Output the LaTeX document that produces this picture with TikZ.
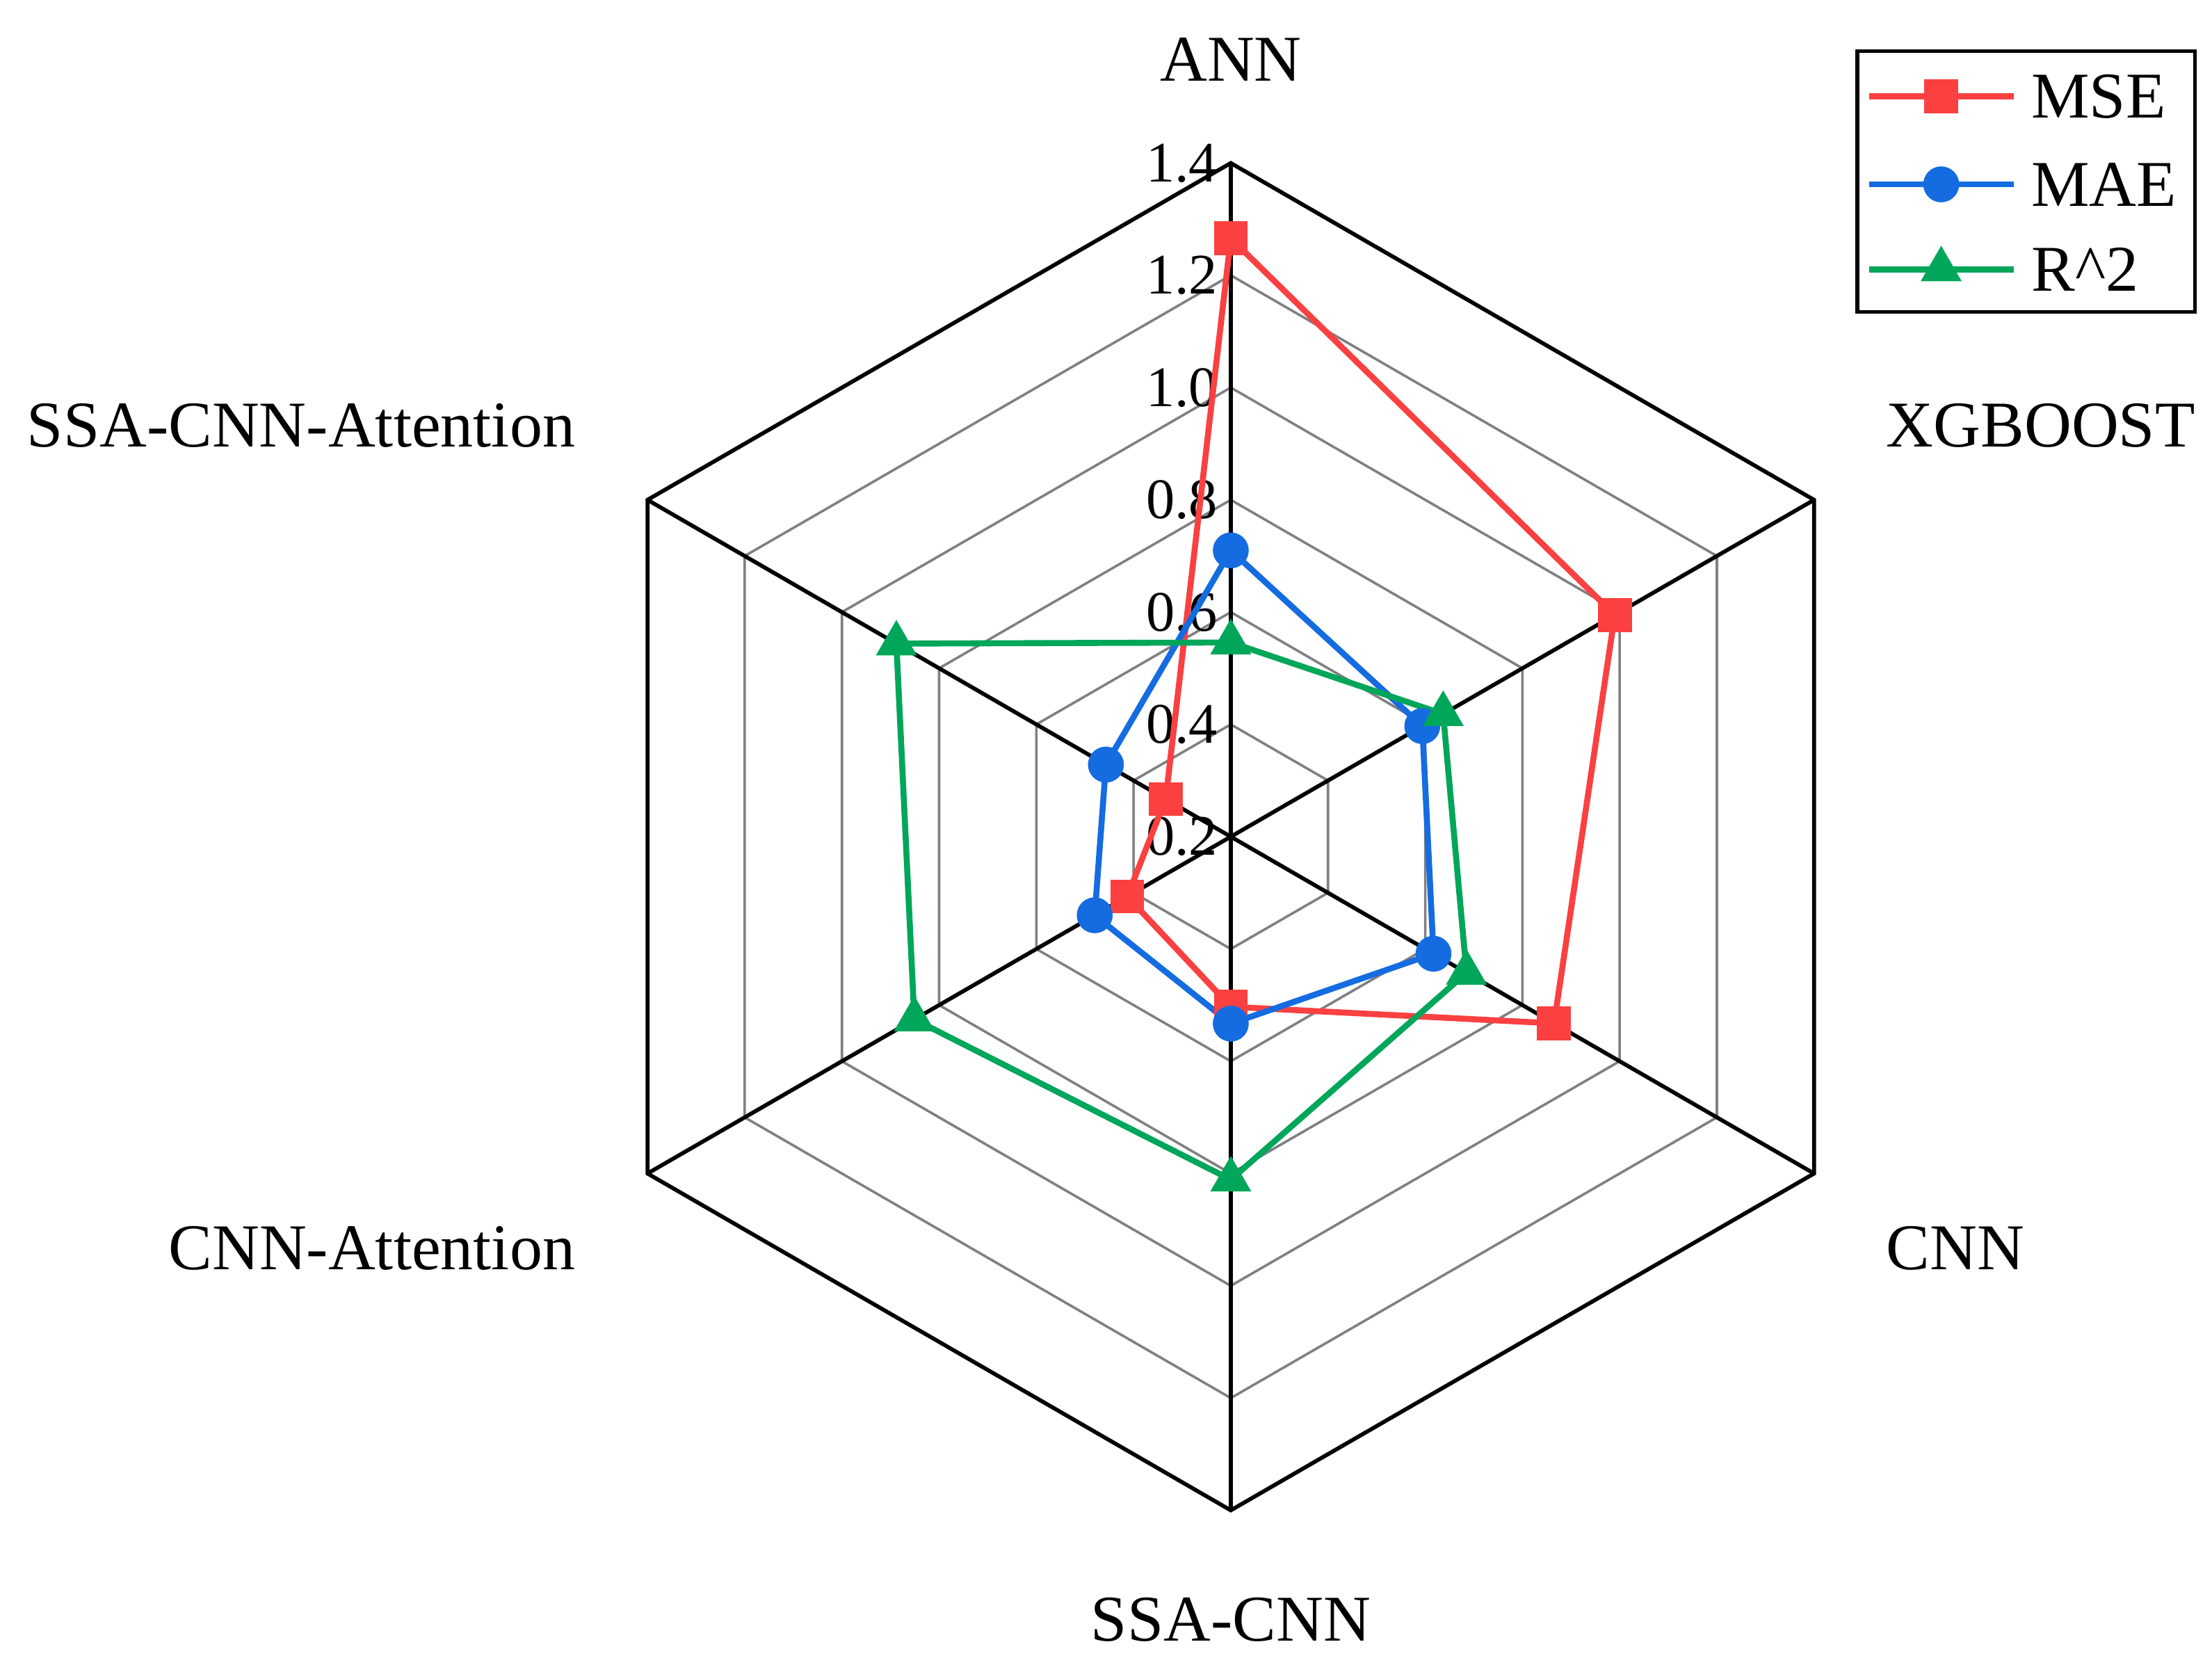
\documentclass[tikz,border=0pt]{standalone}
\usetikzlibrary{shapes.geometric}
\usepackage{fontspec}
\setmainfont{Liberation Serif}
\definecolor{cmse}{RGB}{250,64,64}
\definecolor{cmae}{RGB}{20,108,224}
\definecolor{cr2}{RGB}{0,166,90}
\begin{document}
\begin{tikzpicture}[x=0.01cm,y=0.01cm,
  ser/.style={line width=1.2pt,line join=round},
  lab/.style={font=\fontsize{13.1}{15}\selectfont},
  tick/.style={font=\fontsize{11.5}{13}\selectfont,anchor=east,inner sep=1pt},
  msq/.style={fill=cmse,draw=none,minimum size=6.8pt,inner sep=0pt,rectangle},
  mci/.style={fill=cmae,draw=none,minimum size=7.2pt,inner sep=0pt,circle},
  mtr/.style={fill=cr2,draw=none,regular polygon,regular polygon sides=3,minimum size=9.5pt,inner sep=0pt}]
\useasboundingbox (0,0) rectangle (1560,-1180);
\begin{scope}[shift={(868,-590)}]
\foreach \k in {1,...,5}{
  \draw[gray,line width=0.5pt] (90:\k*79.17) \foreach \a in {30,-30,-90,-150,150}{ -- (\a:\k*79.17)} -- cycle;
}
\draw[black,line width=0.8pt] (90:475) -- (30:475) -- (-30:475) -- (-90:475) -- (-150:475) -- (150:475) -- cycle;
\foreach \a in {90,30,-30,-90,-150,150}{\draw[black,line width=0.8pt] (0,0) -- (\a:475);}
\foreach \v [count=\i from 0] in {0.2,0.4,0.6,0.8,1.0,1.2,1.4}{
  \node[tick] (t\i) at (-5,\i*79.17) {\v};
}
\def\R#1{(#1-0.2)/1.2*475}
\foreach \n/\vals in {mse/{1.266,0.99,0.865,0.503,0.413,0.334},
                      mae/{0.71,0.594,0.617,0.533,0.48,0.457},
                      rr/{0.546,0.637,0.685,0.811,0.851,0.888}}{
  \foreach \v [count=\j from 0] in \vals{
    \coordinate (\n\j) at ({90-60*\j}:{\R{\v}});
  }
}
\draw[ser,cmse] (mse0)--(mse1)--(mse2)--(mse3)--(mse4)--(mse5)--cycle;
\draw[ser,cmae] (mae0)--(mae1)--(mae2)--(mae3)--(mae4)--(mae5)--cycle;
\draw[ser,cr2] (rr0)--(rr1)--(rr2)--(rr3)--(rr4)--(rr5)--cycle;
\foreach \j in {0,...,5}{
  \node[msq] (pm\j) at (mse\j) {};
  \node[mci] (pa\j) at (mae\j) {};
  \node[mtr] (pr\j) at (rr\j) {};
}
\end{scope}
\node[lab] (lANN) at (868,-42) {ANN};
\node[lab,anchor=west] (lXG) at (1318,-300) {XGBOOST};
\node[lab,anchor=west] (lCNN) at (1318,-880) {CNN};
\node[lab] (lSSA) at (868,-1142) {SSA-CNN};
\node[lab,anchor=east] (lCA) at (418,-880) {CNN-Attention};
\node[lab,anchor=east] (lSCA) at (418,-300) {SSA-CNN-Attention};
\draw[line width=0.8pt] (1310,-36) rectangle (1548,-220);
\foreach \y/\c/\s/\t [count=\i] in {-68/cmse/msq/MSE,-130/cmae/mci/MAE,-190/cr2/mtr/R\^{}2}{
  \coordinate (la\i) at (1318,\y);
  \coordinate (lb\i) at (1420,\y);
  \draw[ser,\c] (la\i) -- (lb\i);
  \node[\s] (lm\i) at (1369,\y) {};
  \node[lab,anchor=west,inner sep=0pt] (lt\i) at (1432,\y) {\t};
}
\end{tikzpicture}
\end{document}
